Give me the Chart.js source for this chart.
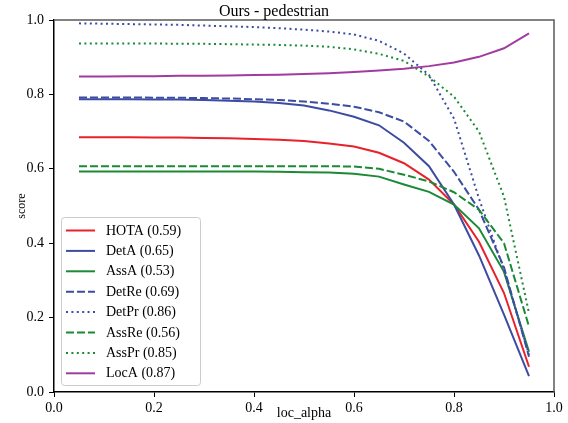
<!DOCTYPE html>
<html><head><meta charset="utf-8">
<script src="https://cdn.jsdelivr.net/npm/chart.js@4.4.1/dist/chart.umd.min.js"></script>
<style>html,body{margin:0;padding:0;background:#fff}#wrap{width:568px;height:423px}</style>
</head><body><div id="wrap"><canvas id="c" width="568" height="423"></canvas></div>
<script>
const alphas = [0.05,0.10,0.15,0.20,0.25,0.30,0.35,0.40,0.45,0.50,0.55,0.60,0.65,0.70,0.75,0.80,0.85,0.90,0.95];
const hota  = [0.685,0.685,0.685,0.684,0.684,0.683,0.682,0.680,0.678,0.675,0.668,0.660,0.643,0.615,0.571,0.504,0.404,0.266,0.068];
const detA  = [0.787,0.787,0.787,0.786,0.786,0.785,0.783,0.781,0.777,0.770,0.757,0.740,0.717,0.670,0.607,0.504,0.367,0.208,0.043];
const assA  = [0.593,0.593,0.593,0.593,0.593,0.593,0.593,0.593,0.592,0.591,0.590,0.587,0.579,0.558,0.538,0.504,0.440,0.323,0.108];
const detRe = [0.792,0.792,0.792,0.791,0.791,0.790,0.789,0.787,0.785,0.781,0.775,0.767,0.752,0.727,0.675,0.592,0.490,0.335,0.095];
const detPr = [0.991,0.990,0.989,0.988,0.987,0.985,0.983,0.981,0.978,0.974,0.969,0.961,0.944,0.910,0.852,0.735,0.520,0.328,0.100];
const assRe = [0.607,0.607,0.607,0.607,0.607,0.607,0.607,0.607,0.607,0.607,0.607,0.606,0.600,0.584,0.566,0.537,0.490,0.400,0.176];
const assPr = [0.937,0.937,0.937,0.937,0.936,0.936,0.935,0.934,0.933,0.931,0.928,0.921,0.909,0.890,0.848,0.794,0.700,0.525,0.212];
const locA  = [0.848,0.848,0.849,0.849,0.850,0.850,0.851,0.852,0.853,0.855,0.857,0.860,0.864,0.869,0.876,0.886,0.901,0.924,0.964];
const seriesNames = ['HOTA','DetA','AssA','DetRe','DetPr','AssRe','AssPr','LocA'];
const seriesMeans = [0.59,0.65,0.53,0.69,0.86,0.56,0.85,0.87];
const seriesValues = [hota,detA,assA,detRe,detPr,assRe,assPr,locA];
const xTickValues = [0,0.2,0.4,0.6,0.8,1.0];
const yTickValues = [0,0.2,0.4,0.6,0.8,1.0];
const titleText = 'Ours - pedestrian';
const xLabelText = 'loc_alpha';
const yLabelText = 'score';

const RED='#e8212b', BLUE='#3c4ca2', GREEN='#1a8a35', PURPLE='#a23b9f';
const styles = [
  {c:RED, d:[]},{c:BLUE, d:[]},{c:GREEN, d:[]},
  {c:BLUE, d:[8,3]},{c:BLUE, d:[2,3.4]},
  {c:GREEN, d:[8,3]},{c:GREEN, d:[2,3.4]},{c:PURPLE, d:[]}
];
const FONT = "'Liberation Serif','DejaVu Serif',serif";

const datasets = seriesNames.map((n,i)=>({
  label: n + ' (' + seriesMeans[i].toFixed(2) + ')',
  data: alphas.map((a,j)=>({x:a, y:seriesValues[i][j]})),
  borderColor: styles[i].c,
  backgroundColor: styles[i].c,
  borderDash: styles[i].d,
  borderWidth: 2,
  borderCapStyle: 'butt',
  pointRadius: 0,
  tension: 0,
  fill: false,
  order: seriesNames.length - i
}));

const decor = {
  id:'decor',
  afterDraw(chart){
    const ctx = chart.ctx, a = chart.chartArea;
    ctx.save();
    ctx.strokeStyle = '#5a5a5a'; ctx.lineWidth = 1.5;
    ctx.beginPath();
    ctx.moveTo(a.left, a.top); ctx.lineTo(a.right, a.top); ctx.lineTo(a.right, a.bottom);
    ctx.stroke();
    ctx.fillStyle = '#000';
    ctx.font = '16px ' + FONT;
    ctx.textAlign = 'center'; ctx.textBaseline = 'alphabetic';
    ctx.fillText(titleText, 274, 16);
    ctx.font = '14px ' + FONT;
    ctx.fillText(xLabelText, 304, 417);
    ctx.save();
    ctx.translate(22, 206); ctx.rotate(-Math.PI/2);
    ctx.font = '12px ' + FONT;
    ctx.textAlign='center'; ctx.textBaseline='middle';
    ctx.fillText(yLabelText, 0, 0);
    ctx.restore();
    const bx=61.5, by=217.5, bw=139, bh=168;
    ctx.fillStyle='rgba(255,255,255,0.85)'; ctx.strokeStyle='#cccccc'; ctx.lineWidth=1;
    ctx.beginPath(); ctx.roundRect(bx,by,bw,bh,3); ctx.fill(); ctx.stroke();
    chart.data.datasets.forEach((ds,i)=>{
      const y = 230.5 + i*20.4;
      ctx.strokeStyle = ds.borderColor; ctx.lineWidth = 2; ctx.lineCap='butt';
      ctx.setLineDash(ds.borderDash);
      ctx.beginPath(); ctx.moveTo(66,y); ctx.lineTo(95,y); ctx.stroke();
      ctx.setLineDash([]);
      ctx.fillStyle='#000'; ctx.font='14px ' + FONT;
      ctx.textAlign='left'; ctx.textBaseline='middle';
      ctx.fillText(ds.label, 106, y+0.5);
    });
    ctx.restore();
  }
};

new Chart(document.getElementById('c'), {
  type:'line',
  data:{datasets},
  options:{
    responsive:false, animation:false, devicePixelRatio:1,
    layout:{padding:{left:0,right:14,top:20,bottom:0}},
    plugins:{legend:{display:false}, title:{display:false}, tooltip:{enabled:false}},
    scales:{
      x:{type:'linear', min:0, max:1,
        afterBuildTicks(s){ s.ticks = xTickValues.map(v=>({value:v})); },
        afterFit(s){ s.height = 31; },
        ticks:{color:'#000', font:{family:FONT, size:14}, padding:3, maxRotation:0,
          callback:v=>Number(v).toFixed(1)},
        grid:{drawOnChartArea:false, drawTicks:true, tickLength:5, color:'#000', tickWidth:1},
        border:{color:'#000', width:1.5}
      },
      y:{type:'linear', min:0, max:1,
        afterBuildTicks(s){ s.ticks = yTickValues.map(v=>({value:v})); },
        afterFit(s){ s.width = 54; },
        ticks:{color:'#000', font:{family:FONT, size:14}, padding:5,
          callback:v=>Number(v).toFixed(1)},
        grid:{drawOnChartArea:false, drawTicks:true, tickLength:5, color:'#000', tickWidth:1},
        border:{color:'#000', width:1.5}
      }
    }
  },
  plugins:[decor]
});
</script></body></html>
